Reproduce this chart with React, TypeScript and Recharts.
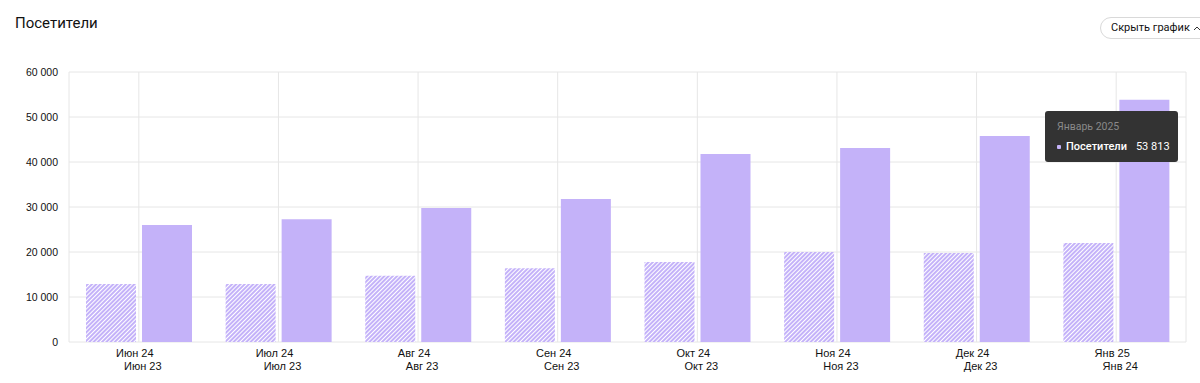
import React from "react";
import { BarChart, Bar, XAxis, YAxis, CartesianGrid, Tooltip } from "recharts";

const categories = ["Июн", "Июл", "Авг", "Сен", "Окт", "Ноя", "Дек", "Янв"];
const labelsCurrent = ["Июн 24", "Июл 24", "Авг 24", "Сен 24", "Окт 24", "Ноя 24", "Дек 24", "Янв 25"];
const labelsPrevious = ["Июн 23", "Июл 23", "Авг 23", "Сен 23", "Окт 23", "Ноя 23", "Дек 23", "Янв 24"];
const fullLabels = ["Июнь 2024", "Июль 2024", "Август 2024", "Сентябрь 2024", "Октябрь 2024", "Ноябрь 2024", "Декабрь 2024", "Январь 2025"];
const visitorsPrevious = [12900, 12900, 14700, 16400, 17800, 20000, 19800, 22000];
const visitorsCurrent = [26000, 27300, 29800, 31800, 41800, 43100, 45800, 53813];
const yTicks = [0, 10000, 20000, 30000, 40000, 50000, 60000];

const data = categories.map((c, i) => ({
  month: c,
  full: fullLabels[i],
  prev: visitorsPrevious[i],
  current: visitorsCurrent[i],
}));

const PURPLE = "#c4b2f9";
const fmt = (v: number) => String(Math.round(v)).replace(/\B(?=(\d{3})+(?!\d))/g, " ");

const XTick = (props: any) => {
  const { x, y, index } = props;
  return (
    <g>
      <text x={x - 4} y={y + 7} textAnchor="middle" fontSize={11} fill="#111" fontFamily="Liberation Sans, Arial, sans-serif">
        {labelsCurrent[index]}
      </text>
      <text x={x + 4} y={y + 20} textAnchor="middle" fontSize={11} fill="#111" fontFamily="Liberation Sans, Arial, sans-serif">
        {labelsPrevious[index]}
      </text>
    </g>
  );
};

const TipContent = (props: any) => {
  const { payload } = props;
  if (!payload || !payload.length) return null;
  const row = payload[0].payload;
  return (
    <div
      style={{
        background: "#333333",
        borderRadius: 3,
        width: 133,
        height: 51,
        boxSizing: "border-box",
        padding: "9px 0 0 12px",
        fontFamily: "Roboto, sans-serif",
        whiteSpace: "nowrap",
      }}
    >
      <div style={{ color: "#8a8a8a", fontSize: 10.5, lineHeight: "13px" }}>{row.full}</div>
      <div style={{ color: "#fff", fontSize: 11, lineHeight: "14px", marginTop: 7, display: "flex", alignItems: "center" }}>
        <span style={{ width: 4, height: 4, background: PURPLE, borderRadius: 1, display: "inline-block", marginRight: 5 }} />
        <span style={{ fontWeight: 500 }}>Посетители</span>
        <span style={{ marginLeft: 9 }}>{fmt(row.current)}</span>
      </div>
    </div>
  );
};

export default function App() {
  return (
    <div style={{ position: "absolute", left: 0, top: 0, width: 1200, height: 383, overflow: "hidden", background: "#fff" }}>
      <div
        style={{
          position: "absolute",
          left: 15,
          top: 14,
          fontSize: 15,
          fontFamily: "Roboto, 'Noto Sans', sans-serif",
          color: "#111",
        }}
      >
        Посетители
      </div>
      <div
        style={{
          position: "absolute",
          left: 1100,
          top: 17,
          height: 22,
          width: 120,
          boxSizing: "border-box",
          border: "1px solid #d9d9d9",
          borderRadius: 12,
          paddingLeft: 10,
          fontSize: 11,
          lineHeight: "20px",
          fontFamily: "Roboto, 'Noto Sans', sans-serif",
          color: "#111",
          display: "flex",
          alignItems: "center",
        }}
      >
        Скрыть график
        <svg width="8" height="6" style={{ marginLeft: 3 }}>
          <polyline points="1,5 4,2 7,5" fill="none" stroke="#333" strokeWidth="1" />
        </svg>
      </div>
      <div style={{ position: "absolute", left: 0, top: 0 }}>
        <BarChart
          width={1200}
          height={383}
          data={data}
          margin={{ top: 72, right: 14, left: 0, bottom: 0 }}
          barSize={50}
          barGap={6}
        >
          <defs>
            <pattern id="hatch" patternUnits="userSpaceOnUse" width="3" height="3" patternTransform="rotate(45)">
              <rect width="3" height="3" fill={PURPLE} />
              <rect x="0" y="0" width="1" height="3" fill="#ffffff" />
            </pattern>
          </defs>
          <CartesianGrid
            stroke="#e6e6e6"
            verticalCoordinatesGenerator={({ offset }: any) => {
              const step = offset.width / categories.length;
              const pts = [offset.left, offset.left + offset.width];
              categories.forEach((_, i) => pts.push(offset.left + step * (i + 0.5)));
              return pts;
            }}
          />
          <XAxis dataKey="month" axisLine={false} tickLine={false} height={41} tick={<XTick />} interval={0} />
          <YAxis
            domain={[0, 60000]}
            ticks={yTicks}
            width={69}
            axisLine={false}
            tickLine={false}
            tickMargin={5}
            tickFormatter={fmt}
            tick={{ fontSize: 10.5, fill: "#111", fontFamily: "Liberation Sans, Arial, sans-serif" }}
          />
          <Tooltip
            active
            defaultIndex={7}
            cursor={false}
            position={{ x: 1045, y: 111 }}
            content={<TipContent />}
            isAnimationActive={false}
            wrapperStyle={{ outline: "none" }}
          />
          <Bar dataKey="prev" fill="url(#hatch)" isAnimationActive={false} />
          <Bar dataKey="current" fill={PURPLE} isAnimationActive={false} />
        </BarChart>
      </div>
    </div>
  );
}
